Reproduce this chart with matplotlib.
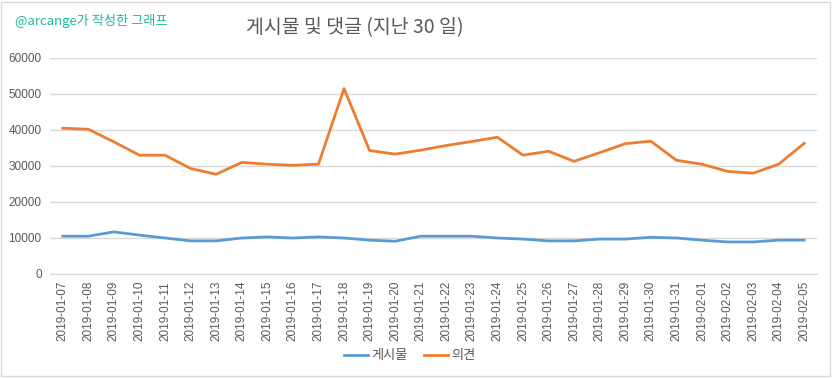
import matplotlib
matplotlib.use("Agg")
import matplotlib.pyplot as plt
from matplotlib.patches import Rectangle

plt.rcParams['font.family'] = ['Noto Sans CJK KR', 'DejaVu Sans']

dates = ["2019-01-07", "2019-01-08", "2019-01-09", "2019-01-10", "2019-01-11",
         "2019-01-12", "2019-01-13", "2019-01-14", "2019-01-15", "2019-01-16",
         "2019-01-17", "2019-01-18", "2019-01-19", "2019-01-20", "2019-01-21",
         "2019-01-22", "2019-01-23", "2019-01-24", "2019-01-25", "2019-01-26",
         "2019-01-27", "2019-01-28", "2019-01-29", "2019-01-30", "2019-01-31",
         "2019-02-01", "2019-02-02", "2019-02-03", "2019-02-04", "2019-02-05"]
posts = [10500, 10500, 11700, 10800, 10000, 9200, 9200, 10000, 10300, 10000,
         10300, 10000, 9400, 9100, 10500, 10500, 10500, 10000, 9700, 9200,
         9200, 9700, 9700, 10200, 10000, 9400, 8900, 8900, 9400, 9400]
comments = [40500, 40200, 36700, 33000, 33000, 29300, 27700, 31000, 30500, 30200,
            30500, 51500, 34300, 33300, 34400, 35700, 36800, 38000, 33000, 34100,
            31300, 33700, 36200, 36900, 31600, 30500, 28500, 28000, 30500, 36300]
yticks = [0, 10000, 20000, 30000, 40000, 50000, 60000]
series_names = ["게시물", "의견"]
title = "게시물 및 댓글 (지난 30 일)"
watermark = "@arcange가 작성한 그래프"

W, H = 832, 378
fig = plt.figure(figsize=(W / 100, H / 100), dpi=100)
ax = fig.add_axes([50 / W, 1 - 274 / H, 767 / W, 216 / H])

x = list(range(len(dates)))
l1, = ax.plot(x, posts, color="#5b9bd5", lw=2.0, solid_joinstyle="round")
l2, = ax.plot(x, comments, color="#ed7d31", lw=2.0, solid_joinstyle="round")

ax.set_xlim(-0.5, len(dates) - 0.5)
ax.set_ylim(0, 60000)
ax.set_yticks(yticks)
ax.set_yticklabels([str(v) for v in yticks], fontsize=8.5, color="#595959",
                   family=['Liberation Sans', 'DejaVu Sans'])
ax.set_xticks(x)
ax.set_xticklabels(dates, rotation=90, fontsize=8.5, color="#595959",
                   family=['Liberation Sans', 'DejaVu Sans'])
ax.tick_params(axis='both', length=0, pad=6)
ax.tick_params(axis='x', pad=5)
ax.grid(axis='y', color="#d9d9d9", lw=1)
ax.set_axisbelow(True)
for s in ['top', 'right', 'left']:
    ax.spines[s].set_visible(False)
ax.spines['bottom'].set_color("#d9d9d9")

fig.text(355 / W, 1 - 28 / H, title, ha='center', va='center', fontsize=14,
         color="#595959")
fig.text(15 / W, 1 - 21 / H, watermark, ha='left', va='center', fontsize=9.5,
         color="#1abc9c")

fig.legend([l1, l2], series_names, loc='center', bbox_to_anchor=(410 / W, 1 - 356 / H),
           ncol=2, frameon=False, fontsize=9.5, handlelength=1.8, handletextpad=0.3,
           columnspacing=1.2, labelcolor="#595959")

fig.patches.append(Rectangle((1 / W, 2 / H), 829 / W, 374 / H, transform=fig.transFigure,
                             fill=False, edgecolor="#d9d9d9", lw=1))

fig.savefig("out.png", dpi=100)
